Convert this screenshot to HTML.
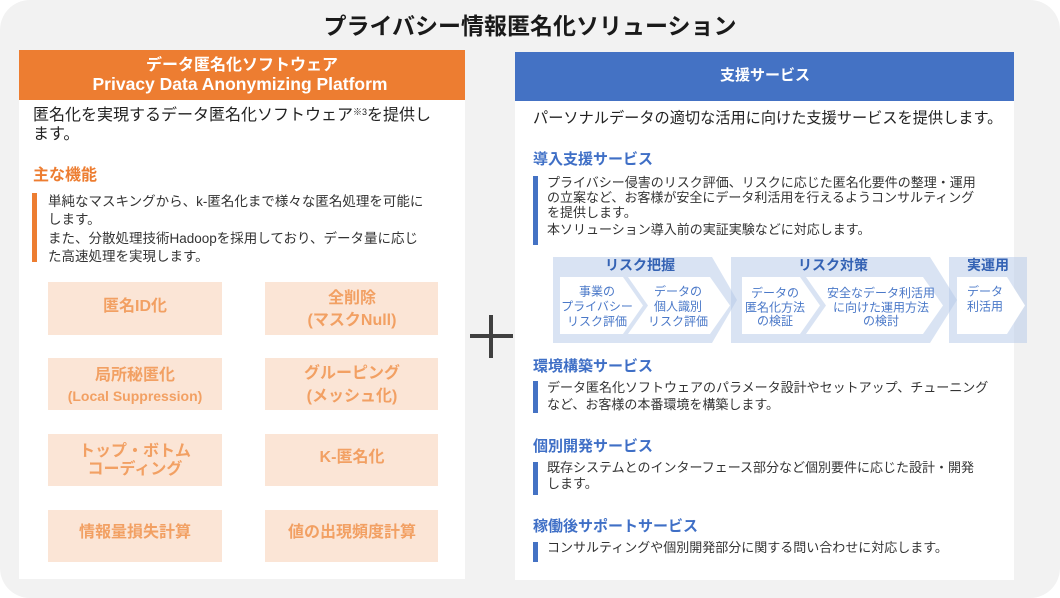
<!DOCTYPE html>
<html><head><meta charset="utf-8">
<style>
*{margin:0;padding:0;box-sizing:border-box}
html,body{width:1060px;height:598px;background:#fff;overflow:hidden}
body{font-family:"Liberation Sans","Noto Sans CJK JP",sans-serif;position:relative}
.bg{position:absolute;left:0;top:0;width:1060px;height:598px;background:#f2f2f2;border-radius:30px}
.a{position:absolute}
.t{position:absolute;white-space:nowrap;height:20px;line-height:20px}
.c{transform:translateX(-50%)}
.panel{position:absolute;background:#fff}
.ob{position:absolute;background:#fbe5d6;color:#f2a063;font-weight:bold;font-size:16px}
.lt{font-size:13.5px;color:#333}
.rt{font-size:13px;color:#333}
.bh{font-size:15px;font-weight:bold;color:#3f6fc6}
.bar{position:absolute;background:#4472c4;width:5px}
</style></head><body>
<div class="bg"></div>

<div class="t c" style="left:530px;top:13px;height:26px;line-height:26px;font-size:23px;font-weight:bold;color:#1a1a1a">プライバシー情報匿名化ソリューション</div>

<!-- Left panel -->
<div class="panel" style="left:19px;top:50px;width:446px;height:529px"></div>
<div class="a" style="left:19px;top:50px;width:446px;height:50px;background:#ed7d31"></div>
<div class="t c" style="left:242px;top:56px;font-size:16px;font-weight:bold;color:#fff">データ匿名化ソフトウェア</div>
<div class="t c" style="left:240px;top:74px;font-size:17.5px;font-weight:bold;color:#fff">Privacy Data Anonymizing Platform</div>

<div class="t" style="left:33px;top:106px;font-size:16px;color:#222">匿名化を実現するデータ匿名化ソフトウェア<span style="font-size:9px;position:relative;top:-5px">※3</span>を提供し</div>
<div class="t" style="left:33px;top:125px;font-size:16px;color:#222">ます。</div>

<div class="t" style="left:33px;top:166px;font-size:16px;font-weight:bold;color:#ed7d31">主な機能</div>
<div class="a" style="left:32px;top:193px;width:5px;height:69px;background:#ed7d31"></div>
<div class="t lt" style="left:48px;top:192px">単純なマスキングから、k-匿名化まで様々な匿名処理を可能に</div>
<div class="t lt" style="left:48px;top:210px">します。</div>
<div class="t lt" style="left:48px;top:229px">また、分散処理技術Hadoopを採用しており、データ量に応じ</div>
<div class="t lt" style="left:48px;top:247px">た高速処理を実現します。</div>

<div class="ob" style="left:48px;top:282px;width:174px;height:53px"></div>
<div class="ob" style="left:265px;top:282px;width:173px;height:53px"></div>
<div class="ob" style="left:48px;top:358px;width:174px;height:52px"></div>
<div class="ob" style="left:265px;top:358px;width:173px;height:52px"></div>
<div class="ob" style="left:48px;top:434px;width:174px;height:52px"></div>
<div class="ob" style="left:265px;top:434px;width:173px;height:52px"></div>
<div class="ob" style="left:48px;top:510px;width:174px;height:52px"></div>
<div class="ob" style="left:265px;top:510px;width:173px;height:52px"></div>

<div class="t c" style="left:135px;top:297px;font-size:16px;font-weight:bold;color:#f2a063">匿名ID化</div>
<div class="t c" style="left:352px;top:289px;font-size:16px;font-weight:bold;color:#f2a063">全削除</div>
<div class="t c" style="left:352px;top:311px;font-size:16px;font-weight:bold;color:#f2a063">(マスクNull)</div>
<div class="t c" style="left:135px;top:366px;font-size:16px;font-weight:bold;color:#f2a063">局所秘匿化</div>
<div class="t c" style="left:135px;top:386px;font-size:14px;font-weight:bold;color:#f2a063">(Local Suppression)</div>
<div class="t c" style="left:352px;top:364px;font-size:16px;font-weight:bold;color:#f2a063">グルーピング</div>
<div class="t c" style="left:352px;top:387px;font-size:16px;font-weight:bold;color:#f2a063">(メッシュ化)</div>
<div class="t c" style="left:135px;top:442px;font-size:16px;font-weight:bold;color:#f2a063">トップ・ボトム</div>
<div class="t c" style="left:135px;top:460px;font-size:16px;font-weight:bold;color:#f2a063">コーディング</div>
<div class="t c" style="left:352px;top:448px;font-size:16px;font-weight:bold;color:#f2a063">K-匿名化</div>
<div class="t c" style="left:135px;top:523px;font-size:16px;font-weight:bold;color:#f2a063">情報量損失計算</div>
<div class="t c" style="left:352px;top:523px;font-size:16px;font-weight:bold;color:#f2a063">値の出現頻度計算</div>

<!-- plus -->
<div class="a" style="left:470px;top:334px;width:43px;height:4px;background:#404040"></div>
<div class="a" style="left:489px;top:315px;width:4px;height:43px;background:#404040"></div>

<!-- Right panel -->
<div class="panel" style="left:515px;top:52px;width:499px;height:528px"></div>
<div class="a" style="left:515px;top:52px;width:499px;height:49px;background:#4472c4"></div>
<div class="t c" style="left:765px;top:66px;font-size:15px;font-weight:bold;color:#fff">支援サービス</div>

<div class="t" style="left:533px;top:109px;font-size:15.2px;color:#222">パーソナルデータの適切な活用に向けた支援サービスを提供します。</div>

<div class="t bh" style="left:533px;top:150px">導入支援サービス</div>
<div class="bar" style="left:533px;top:176px;height:69px"></div>
<div class="t rt" style="left:547px;top:173px">プライバシー侵害のリスク評価、リスクに応じた匿名化要件の整理・運用</div>
<div class="t rt" style="left:547px;top:188px">の立案など、お客様が安全にデータ利活用を行えるようコンサルティング</div>
<div class="t rt" style="left:547px;top:203px">を提供します。</div>
<div class="t rt" style="left:547px;top:220px">本ソリューション導入前の実証実験などに対応します。</div>

<svg class="a" style="left:0;top:0" width="1060" height="598" viewBox="0 0 1060 598">
  <g fill="#b4c7e7" fill-opacity="0.5">
    <polygon points="553,257 712,257 737,300 712,343 553,343"/>
    <polygon points="731,257 930,257 957,300 930,343 731,343"/>
    <rect x="949" y="257" width="78" height="86"/>
  </g>
  <g fill="#fff">
    <polygon points="560,277 623,277 643,305.5 623,334 560,334"/>
    <polygon points="628,277 710,277 730,305.5 710,334 628,334 648,305.5"/>
    <polygon points="742,277 800,277 820,305.5 800,334 742,334"/>
    <polygon points="806,277 923,277 943,305.5 923,334 806,334 826,305.5"/>
    <polygon points="957,277 1007,277 1025,305.5 1007,334 957,334"/>
  </g>
  <g font-family="Liberation Sans, Noto Sans CJK JP, sans-serif" text-anchor="middle">
    <g font-size="14" font-weight="bold" fill="#3462b4">
      <text x="640" y="270">リスク把握</text>
      <text x="833" y="270">リスク対策</text>
      <text x="988" y="270">実運用</text>
    </g>
    <g font-size="12" fill="#4a78c8">
      <text x="597" y="295.5">事業の</text>
      <text x="597" y="310.5">プライバシー</text>
      <text x="597" y="325.5">リスク評価</text>
      <text x="678" y="295.5">データの</text>
      <text x="678" y="310.5">個人識別</text>
      <text x="678" y="325.5">リスク評価</text>
      <text x="775" y="297">データの</text>
      <text x="775" y="311.5">匿名化方法</text>
      <text x="775" y="325">の検証</text>
      <text x="881" y="297">安全なデータ利活用</text>
      <text x="881" y="311.5">に向けた運用方法</text>
      <text x="881" y="325">の検討</text>
      <text x="985" y="295.5">データ</text>
      <text x="985" y="310.5">利活用</text>
    </g>
  </g>
</svg>

<div class="t bh" style="left:533px;top:357px">環境構築サービス</div>
<div class="bar" style="left:533px;top:381px;height:32px"></div>
<div class="t rt" style="left:547px;top:378px">データ匿名化ソフトウェアのパラメータ設計やセットアップ、チューニング</div>
<div class="t rt" style="left:547px;top:395px">など、お客様の本番環境を構築します。</div>

<div class="t bh" style="left:533px;top:437px">個別開発サービス</div>
<div class="bar" style="left:533px;top:462px;height:33px"></div>
<div class="t rt" style="left:547px;top:458px">既存システムとのインターフェース部分など個別要件に応じた設計・開発</div>
<div class="t rt" style="left:547px;top:474px">します。</div>

<div class="t bh" style="left:533px;top:517px">稼働後サポートサービス</div>
<div class="bar" style="left:533px;top:542px;height:20px"></div>
<div class="t rt" style="left:547px;top:538px">コンサルティングや個別開発部分に関する問い合わせに対応します。</div>

</body></html>
